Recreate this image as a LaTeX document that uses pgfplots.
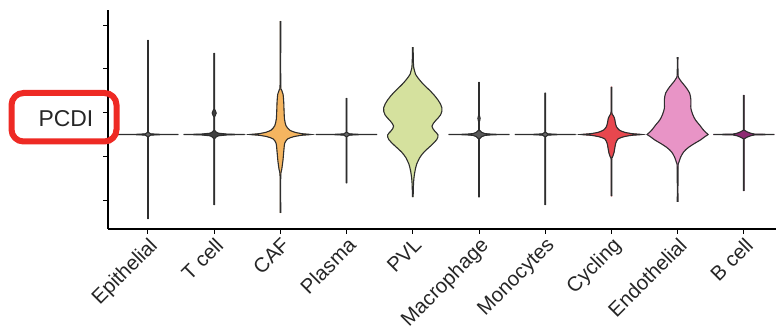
\documentclass[border=0pt]{standalone}
\usepackage{fontspec}
\setmainfont{Liberation Sans}
\usepackage{pgfplots}
\usepackage{pgfplotstable}
\pgfplotsset{compat=1.18}
\usepgfplotslibrary{fillbetween}
\definecolor{vline}{HTML}{2E2E2E}
\definecolor{cafc}{HTML}{F5B560}
\definecolor{pvlc}{HTML}{D5E19E}
\definecolor{cycc}{HTML}{E8474E}
\definecolor{endc}{HTML}{E894C6}
\definecolor{bcc}{HTML}{8E2A72}
\definecolor{pcdired}{HTML}{EE2A24}

\pgfplotstableread{
y w
2.16 0.005
0.05 0.005
0.015 0.04
0.005 0.15
0 0.46
-0.005 0.15
-0.015 0.04
-0.05 0.005
-1.93 0.005
}\epi
\pgfplotstableread{
y w
1.86 0.005
0.58 0.005
0.53 0.02
0.49 0.03
0.45 0.02
0.40 0.005
0.10 0.005
0.06 0.025
0.03 0.06
0.008 0.2
0 0.46
-0.008 0.2
-0.03 0.06
-0.06 0.025
-0.10 0.005
-1.61 0.005
}\tcell
\pgfplotstableread{
y w
2.59 0.005
1.15 0.005
1.03 0.015
0.92 0.04
0.75 0.05
0.55 0.055
0.35 0.062
0.2 0.085
0.1 0.14
0.05 0.22
0.02 0.32
0.005 0.43
0 0.46
-0.005 0.43
-0.02 0.31
-0.05 0.2
-0.1 0.11
-0.2 0.065
-0.4 0.05
-0.6 0.038
-0.8 0.02
-0.95 0.005
-1.79 0.005
}\caf
\pgfplotstableread{
y w
0.83 0.005
0.05 0.005
0.015 0.04
0.005 0.15
0 0.46
-0.005 0.15
-0.015 0.04
-0.05 0.005
-1.11 0.005
}\plasma
\pgfplotstableread{
y w
2.0 0.005
1.7 0.008
1.52 0.015
1.38 0.04
1.18 0.14
0.97 0.28
0.79 0.38
0.61 0.44
0.45 0.42
0.31 0.34
0.19 0.29
0.08 0.33
-0.01 0.38
-0.12 0.36
-0.26 0.27
-0.40 0.17
-0.54 0.10
-0.67 0.06
-0.86 0.03
-1.09 0.012
-1.43 0.005
}\pvl
\pgfplotstableread{
y w
1.2 0.005
0.44 0.005
0.40 0.012
0.37 0.016
0.33 0.012
0.29 0.005
0.1 0.005
0.05 0.04
0.02 0.09
0.006 0.2
0 0.46
-0.006 0.2
-0.02 0.09
-0.05 0.04
-0.1 0.005
-1.43 0.005
}\macro
\pgfplotstableread{
y w
0.95 0.005
0.05 0.005
0.015 0.04
0.005 0.15
0 0.46
-0.005 0.15
-0.015 0.04
-0.05 0.005
-1.61 0.005
}\mono
\pgfplotstableread{
y w
1.09 0.005
0.52 0.005
0.45 0.02
0.38 0.045
0.28 0.058
0.18 0.075
0.1 0.12
0.05 0.2
0.02 0.31
0.005 0.43
0 0.46
-0.005 0.43
-0.02 0.3
-0.05 0.19
-0.1 0.1
-0.2 0.065
-0.3 0.052
-0.42 0.038
-0.52 0.015
-0.58 0.005
-1.41 0.005
}\cyc
\pgfplotstableread{
y w
1.77 0.005
1.36 0.006
1.29 0.02
1.2 0.06
1.09 0.12
0.95 0.18
0.8 0.2
0.6 0.2
0.45 0.23
0.33 0.27
0.22 0.33
0.12 0.38
0.04 0.43
0 0.46
-0.04 0.42
-0.12 0.35
-0.2 0.26
-0.3 0.16
-0.4 0.09
-0.52 0.045
-0.64 0.018
-0.75 0.006
-1.54 0.005
}\endo
\pgfplotstableread{
y w
0.9 0.005
0.1 0.005
0.06 0.05
0.03 0.1
0.01 0.16
0 0.46
-0.01 0.16
-0.03 0.1
-0.06 0.05
-0.1 0.005
-1.29 0.005
}\bcell

% #1 position, #2 table, #3 fill colour, #4 extra plot options
\newcommand{\violin}[4]{%
  \addplot[draw=vline, line width=1.1bp, name path=R#1, #4] table[x expr={#1+\thisrow{w}}, y=y]{#2};
  \addplot[draw=vline, line width=1.1bp, name path=L#1, #4] table[x expr={#1-\thisrow{w}}, y=y]{#2};
  \addplot[fill=#3, draw=#3, line width=0.5bp] fill between[of=R#1 and L#1];
}

\begin{document}
\begin{tikzpicture}
\begin{axis}[
  at={(108bp,102bp)}, anchor=south west,
  scale only axis, width=668bp, height=219bp,
  xmin=-0.604, xmax=9.486, ymin=-2.16, ymax=2.846,
  axis x line*=bottom, axis y line*=left,
  axis line style={line width=1.2bp, black},
  xtick={0,1,2,3,4,5,6,7,8,9},
  xticklabels={Epithelial,T cell,CAF,Plasma,PVL,Macrophage,Monocytes,Cycling,Endothelial,B cell},
  ytick={-1.5,-0.5,0.5,1.5,2.5}, yticklabels={},
  tick align=outside, major tick length=5bp,
  tick style={line width=1bp, black},
  x tick label style={rotate=45, anchor=north east, font=\fontsize{20.5}{22}\selectfont, inner sep=1.5bp, text=black!85},
  clip=false,
]
\violin{0}{\epi}{black!60}{}
\violin{1}{\tcell}{black!75}{}
\violin{2}{\caf}{cafc}{smooth, tension=0.4}
\violin{3}{\plasma}{black!60}{}
\violin{4}{\pvl}{pvlc}{smooth, tension=0.6}
\violin{5}{\macro}{black!65}{}
\violin{6}{\mono}{black!60}{}
\violin{7}{\cyc}{cycc}{smooth, tension=0.4}
\violin{8}{\endo}{endc}{smooth, tension=0.45}
\violin{9}{\bcell}{bcc}{}
\end{axis}
\draw[pcdired, line width=6bp, rounded corners=12bp] (11.5bp,238bp) rectangle (116.5bp,189.5bp);
\node[font=\fontsize{23}{25}\selectfont, inner sep=0pt, text=black!85] at (66bp,212bp) {PCDI};
\pgfresetboundingbox
\useasboundingbox (0,0) rectangle (776bp,331bp);
\end{tikzpicture}
\end{document}
